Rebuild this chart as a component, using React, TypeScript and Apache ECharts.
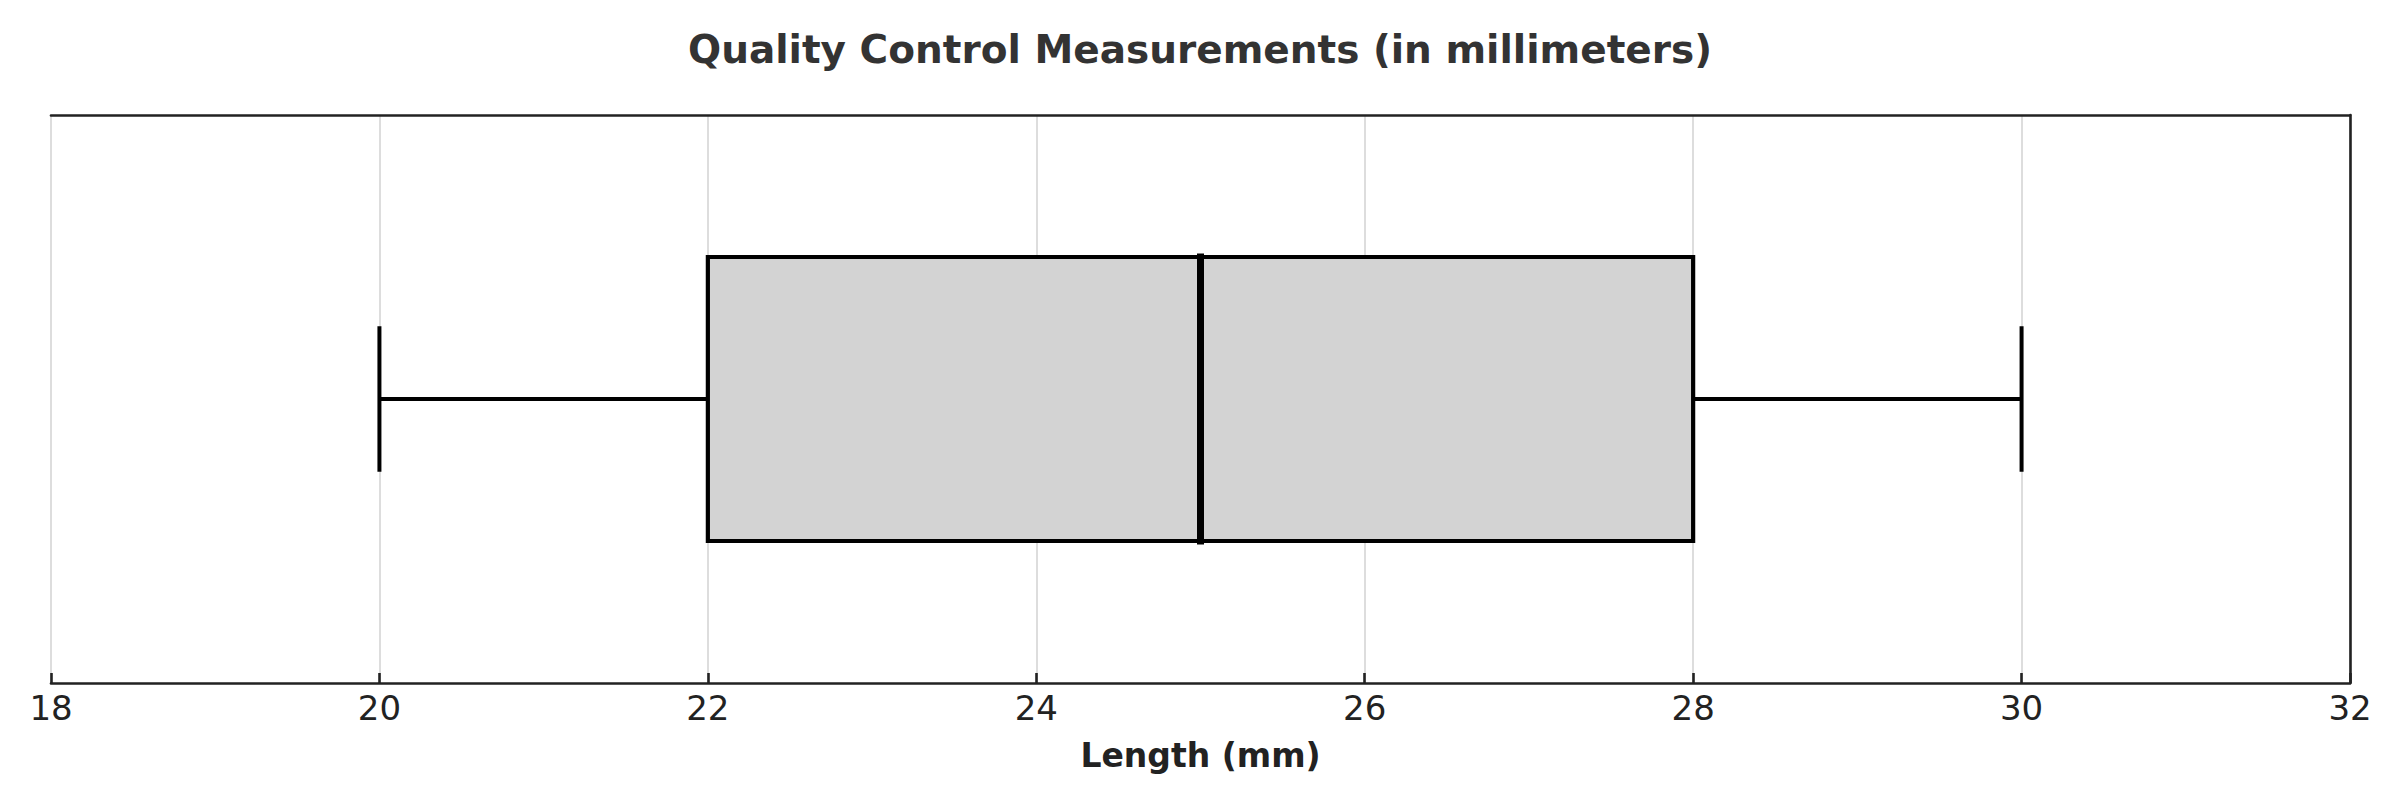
import React, { useEffect, useRef } from "react";
import * as echarts from "echarts";

const categories = ["Length"];
const whiskerLow = [20];
const q1Values = [22];
const medians = [25];
const q3Values = [28];
const whiskerHigh = [30];
const categoryPos = [0.5];
const xTicks = [18, 20, 22, 24, 26, 28, 30, 32];

export default function App() {
  const ref = useRef<HTMLDivElement>(null);
  useEffect(() => {
    if (!ref.current) return;
    const chart = echarts.init(ref.current, null, { renderer: "svg" });
    const data = categories.map((_, i) => [
      whiskerLow[i], q1Values[i], medians[i], q3Values[i], whiskerHigh[i], categoryPos[i],
    ]);
    const font = "DejaVu Sans";
    const frame = { color: "#222222", width: 2.6 };
    chart.setOption({
      animation: false,
      backgroundColor: "#ffffff",
      title: {
        text: "Quality Control Measurements (in millimeters)",
        left: "center",
        top: 25,
        textStyle: { fontFamily: font, fontSize: 39, fontWeight: "bold", color: "#333333" },
      },
      grid: { left: 51, right: 50, top: 115, bottom: 117, containLabel: false },
      xAxis: [
        {
          type: "value",
          min: xTicks[0],
          max: xTicks[xTicks.length - 1],
          interval: 2,
          position: "bottom",
          name: "Length (mm)",
          nameLocation: "middle",
          nameGap: 56,
          nameTextStyle: { fontFamily: font, fontSize: 33, fontWeight: "bold", color: "#222222" },
          axisLine: { show: true, lineStyle: frame },
          axisTick: { show: true, inside: true, length: 10, lineStyle: frame },
          axisLabel: { fontFamily: font, fontSize: 34, color: "#222222", margin: 8 },
          splitLine: { show: true, lineStyle: { color: "#dddddd", width: 2 } },
        },
        {
          type: "value",
          min: xTicks[0],
          max: xTicks[xTicks.length - 1],
          interval: 2,
          position: "top",
          axisLine: { show: true, lineStyle: frame },
          axisTick: { show: false },
          axisLabel: { show: false },
          splitLine: { show: false },
        },
      ],
      yAxis: {
        type: "value",
        min: 0,
        max: 1,
        position: "right",
        axisLine: { show: true, lineStyle: frame },
        axisTick: { show: false },
        axisLabel: { show: false },
        splitLine: { show: false },
      },
      series: [
        {
          type: "custom",
          xAxisIndex: 0,
          yAxisIndex: 0,
          encode: { x: [0, 1, 2, 3, 4], y: 5 },
          data,
          renderItem: (params: any, api: any) => {
            const lo = api.value(0);
            const q1 = api.value(1);
            const med = api.value(2);
            const q3 = api.value(3);
            const hi = api.value(4);
            const y = api.value(5);
            const halfBox = 0.25;
            const halfCap = 0.128;
            const c = api.coord([lo, y]);
            const cy = c[1];
            const xLo = c[0];
            const xQ1 = api.coord([q1, y])[0];
            const xMed = api.coord([med, y])[0];
            const xQ3 = api.coord([q3, y])[0];
            const xHi = api.coord([hi, y])[0];
            const yBoxTop = api.coord([lo, y + halfBox])[1];
            const yBoxBot = api.coord([lo, y - halfBox])[1];
            const yCapTop = api.coord([lo, y + halfCap])[1];
            const yCapBot = api.coord([lo, y - halfCap])[1];
            const lineStyle = { stroke: "#000000", lineWidth: 4 };
            return {
              type: "group",
              children: [
                { type: "line", shape: { x1: xLo, y1: cy, x2: xQ1, y2: cy }, style: lineStyle },
                { type: "line", shape: { x1: xQ3, y1: cy, x2: xHi, y2: cy }, style: lineStyle },
                { type: "line", shape: { x1: xLo, y1: yCapTop, x2: xLo, y2: yCapBot }, style: lineStyle },
                { type: "line", shape: { x1: xHi, y1: yCapTop, x2: xHi, y2: yCapBot }, style: lineStyle },
                {
                  type: "rect",
                  shape: { x: xQ1, y: yBoxTop, width: xQ3 - xQ1, height: yBoxBot - yBoxTop },
                  style: { fill: "#d3d3d3", stroke: "#000000", lineWidth: 4.2 },
                },
                {
                  type: "line",
                  shape: { x1: xMed, y1: yBoxTop, x2: xMed, y2: yBoxBot },
                  style: { stroke: "#000000", lineWidth: 7, lineCap: "square" },
                },
              ],
            };
          },
        },
      ],
    });
    return () => chart.dispose();
  }, []);
  return (
    <div
      ref={ref}
      style={{ position: "fixed", left: 0, top: 0, width: 2400, height: 800, background: "#ffffff" }}
    />
  );
}
